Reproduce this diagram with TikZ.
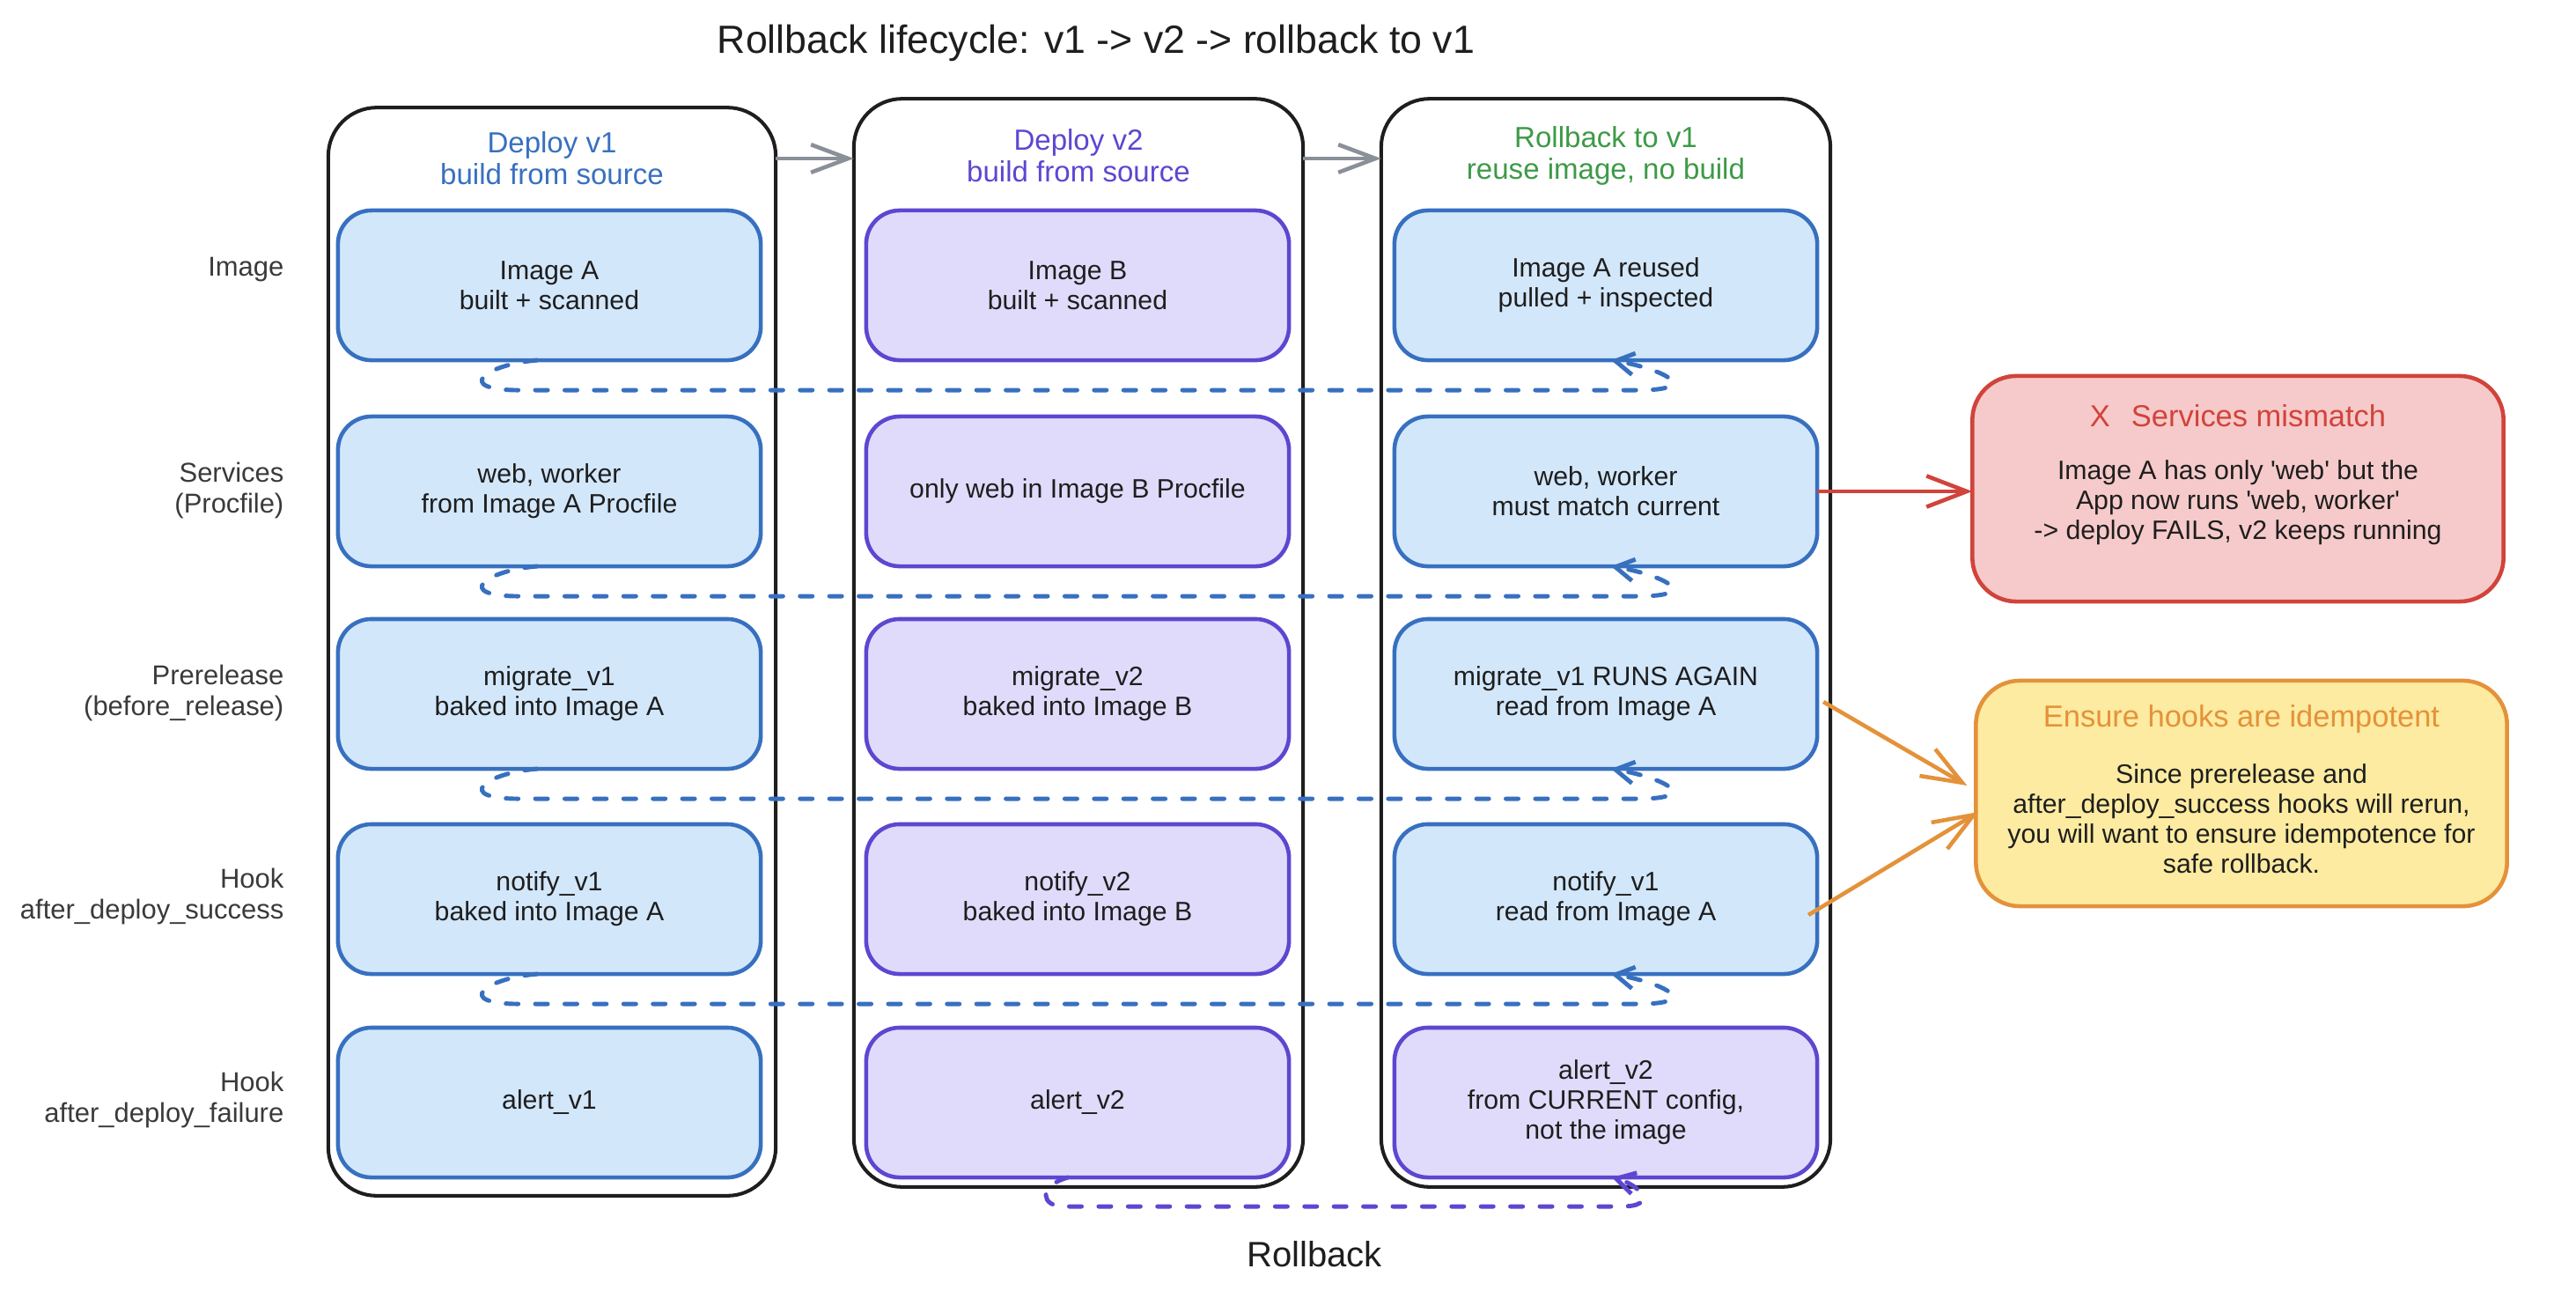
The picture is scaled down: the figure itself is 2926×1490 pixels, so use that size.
\documentclass[tikz,border=0pt]{standalone}
\usepackage{fontspec}
\setmainfont{Liberation Sans}
\usetikzlibrary{arrows.meta,calc}
\definecolor{inkc}{HTML}{1E1E1E}
\definecolor{bstroke}{HTML}{3870C0}
\definecolor{bfill}{HTML}{D3E7FB}
\definecolor{pstroke}{HTML}{5F46D1}
\definecolor{pfill}{HTML}{E0DBFA}
\definecolor{greenc}{HTML}{3D9A47}
\definecolor{redc}{HTML}{D1433B}
\definecolor{redfill}{HTML}{F6CACA}
\definecolor{orangec}{HTML}{E4923A}
\definecolor{yellowfill}{HTML}{FCEBA0}
\definecolor{grayc}{HTML}{8A9097}
\definecolor{sidec}{HTML}{3A3A3A}
\newcommand{\bodyf}{\fontsize{8.6pt}{9.7pt}\selectfont}
\newcommand{\hdrf}{\fontsize{9.4pt}{10.2pt}\selectfont}
\newcommand{\sidef}{\fontsize{8.8pt}{10pt}\selectfont}
\newcommand{\titlef}{\fontsize{12.7pt}{14pt}\selectfont}
\newcommand{\calloutf}{\fontsize{9.8pt}{11pt}\selectfont}
\newcommand{\rbf}{\fontsize{11.4pt}{13pt}\selectfont}
\begin{document}
\begin{tikzpicture}[x=0.01cm,y=-0.01cm,
  container/.style={draw=inkc,line width=1.15pt,rounded corners=0.55cm,inner sep=0pt,outer sep=0pt},
  cell/.style={line width=1.3pt,rounded corners=0.38cm,minimum width=4.8cm,minimum height=1.7cm,inner sep=2pt,outer sep=0pt,align=center,font=\bodyf,text=inkc},
  bcell/.style={cell,draw=bstroke,fill=bfill},
  pcell/.style={cell,draw=pstroke,fill=pfill},
  hdr/.style={align=center,font=\hdrf},
  side/.style={align=right,anchor=east,inner sep=0pt,font=\sidef,text=sidec},
  flow/.style={draw=grayc,line width=1.3pt,-{Straight Barb[length=12pt,width=9pt]}},
  warn/.style={line width=1.3pt,-{Straight Barb[length=13pt,width=10pt]}},
  reuse/.style={line width=1.4pt,line cap=round,dash pattern=on 4pt off 5.5pt,-{Straight Barb[length=6pt,width=7pt]}},
  callout/.style={line width=1.3pt,rounded corners=0.5cm,minimum width=6.03cm,minimum height=2.56cm,inner sep=0pt,outer sep=0pt},
  ctitle/.style={font=\calloutf},
  cbody/.style={align=center,font=\bodyf,text=inkc}
]
\fill[white] (0,0) rectangle (2926,1490);
\useasboundingbox (0,0) rectangle (2926,1490);

\node[font=\titlef,text=inkc] (title) at (1245,49) {Rollback lifecycle: v1 -> v2 -> rollback to v1};

% columns
\node[container,minimum width=5.08cm,minimum height=12.35cm] (c1) at (627,740) {};
\node[container,minimum width=5.1cm,minimum height=12.35cm] (c2) at (1225,730) {};
\node[container,minimum width=5.1cm,minimum height=12.35cm] (c3) at (1824,730) {};

\node[hdr,text=bstroke] (h1) at (627,180) {Deploy v1\\build from source};
\node[hdr,text=pstroke] (h2) at (1225,177) {Deploy v2\\build from source};
\node[hdr,text=greenc] (h3) at (1824,177) {Rollback to v1\\reuse image, no build};

% side labels
\node[side] (l1) at (323,306) {Image};
\node[side] (l2) at (323,557) {Services\\(Procfile)};
\node[side] (l3) at (323,787) {Prerelease\\(before\_release)};
\node[side] (l4) at (323,1018) {Hook\\after\_deploy\_success};
\node[side] (l5) at (323,1249) {Hook\\after\_deploy\_failure};

% column 1
\node[bcell] (c1r1) at (624,324) {Image A\\built + scanned};
\node[bcell] (c1r2) at (624,558) {web, worker\\from Image A Procfile};
\node[bcell] (c1r3) at (624,788) {migrate\_v1\\baked into Image A};
\node[bcell] (c1r4) at (624,1021) {notify\_v1\\baked into Image A};
\node[bcell] (c1r5) at (624,1252) {alert\_v1};

% column 2
\node[pcell] (c2r1) at (1224,324) {Image B\\built + scanned};
\node[pcell] (c2r2) at (1224,558) {only web in Image B Procfile};
\node[pcell] (c2r3) at (1224,788) {migrate\_v2\\baked into Image B};
\node[pcell] (c2r4) at (1224,1021) {notify\_v2\\baked into Image B};
\node[pcell] (c2r5) at (1224,1252) {alert\_v2};

% column 3
\node[bcell] (c3r1) at (1824,324) {Image A reused\\pulled + inspected};
\node[bcell] (c3r2) at (1824,558) {web, worker\\must match current};
\node[bcell] (c3r3) at (1824,788) {migrate\_v1 RUNS AGAIN\\read from Image A};
\node[bcell] (c3r4) at (1824,1021) {notify\_v1\\read from Image A};
\node[pcell] (c3r5) at (1824,1252) {alert\_v2\\from CURRENT config,\\not the image};

% flow arrows
\draw[flow] (c1.east |- h1.center) -- (c2.west |- h1.center);
\draw[flow] (c2.east |- h1.center) -- (c3.west |- h1.center);

% callouts
\node[callout,draw=redc,fill=redfill] (mis) at (2542,555) {};
\node[ctitle,text=redc] (misT) at (2542,472) {X\hspace{0.7em}Services mismatch};
\node[cbody] (misB) at (2542,571) {Image A has only \textquotesingle web\textquotesingle{} but the\\App now runs \textquotesingle web, worker\textquotesingle\\-> deploy FAILS, v2 keeps running};

\node[callout,draw=orangec,fill=yellowfill] (idem) at (2546,901) {};
\node[ctitle,text=orangec] (idemT) at (2546,817) {Ensure hooks are idempotent};
\node[cbody] (idemB) at (2546,930) {Since prerelease and\\after\_deploy\_success hooks will rerun,\\you will want to ensure idempotence for\\safe rollback.};

\draw[warn,draw=redc] (c3r2.east) -- (mis.west |- c3r2.east);
\draw[warn,draw=orangec] ([xshift=0.07cm,yshift=-0.09cm]c3r3.east) -- ([xshift=-0.1cm,yshift=0.09cm]idem.west);
\draw[warn,draw=orangec] ([xshift=-0.1cm,yshift=-0.18cm]c3r4.east) -- ([xshift=0.03cm,yshift=-0.21cm]idem.west);

% reuse connectors
\foreach \r in {1,...,4} {
  \coordinate (a\r) at ([xshift=-0.14cm]c1r\r.south);
  \coordinate (z\r) at ([xshift=0.06cm]c3r\r.south);
  \draw[reuse,draw=bstroke] (a\r) .. controls +(-60,5) and +(-75,0) .. ($(a\r)+(-20,34)$) -- ($(z\r)+(30,34)$) .. controls +(75,0) and +(60,10) .. (z\r);
}
\coordinate (pa) at ([xshift=-0.11cm]c2r5.south);
\coordinate (pz) at ([xshift=0.07cm]c3r5.south);
\draw[reuse,draw=pstroke] (pa) .. controls +(-35,10) and +(-25,0) .. ($(pa)+(-5,33)$) -- ($(pz)+(10,33)$) .. controls +(45,0) and +(30,8) .. (pz);
\node[font=\rbf,text=inkc] (rbl) at (1493,1424) {Rollback};
\end{tikzpicture}
\end{document}
